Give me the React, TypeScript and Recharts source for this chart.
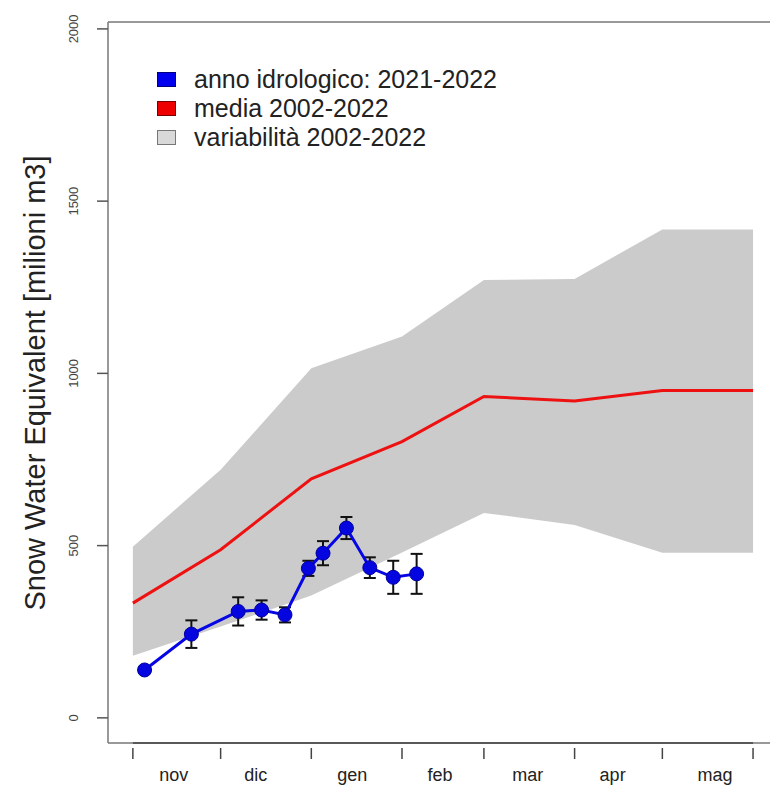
import React from "react";
import {
  ComposedChart,
  Area,
  Line,
  XAxis,
  YAxis,
  ErrorBar,
  ReferenceLine,
} from "recharts";

// days counted from 1 November 2021
const monthStarts = [0, 30, 61, 92, 120, 151, 181, 212];
const monthLabelDays = [14, 42, 75, 105, 135, 164, 199];
const monthLabels = ["nov", "dic", "gen", "feb", "mar", "apr", "mag"];

const meanSwe = [333, 488, 694, 802, 933, 920, 950, 950];
const bandLow = [180, 265, 355, 480, 595, 560, 479, 479];
const bandHigh = [497, 720, 1015, 1107, 1271, 1274, 1418, 1418];

const obsDays = [4, 20, 36, 44, 52, 60, 65, 73, 81, 89, 97];
const obsSwe = [139, 243, 309, 313, 299, 434, 478, 551, 436, 408, 418];
const obsErr = [8, 40, 41, 28, 22, 22, 35, 32, 30, 48, 58];

const yTicks = [0, 500, 1000, 1500, 2000];

// the plot box runs past the right edge of the picture
const X_DOMAIN: [number, number] = [-8.5, 226];
const Y_DOMAIN: [number, number] = [-73, 2020];

const bandData = monthStarts.map((d, i) => ({ day: d, band: [bandLow[i], bandHigh[i]] }));
const meanData = monthStarts.map((d, i) => ({ day: d, mean: meanSwe[i] }));
const obsData = obsDays.map((d, i) => ({ day: d, swe: obsSwe[i], err: obsErr[i] }));

const FONT = "'Liberation Sans', Arial, sans-serif";

const XTick = (props: any) => {
  const { x, y, payload } = props;
  const v = payload.value;
  const idx = monthLabelDays.indexOf(v);
  if (idx >= 0) {
    return (
      <text x={x} y={y + 32} textAnchor="middle" fontSize={18} fill="#222" fontFamily={FONT}>
        {monthLabels[idx]}
      </text>
    );
  }
  return <line x1={x} x2={x} y1={y - 1} y2={y + 10} stroke="#444" strokeWidth={1.5} />;
};

const YTick = (props: any) => {
  const { y, payload } = props;
  return (
    <g>
      <line x1={97} x2={108} y1={y} y2={y} stroke="#555" strokeWidth={1.5} />
      <text
        x={78}
        y={y}
        transform={`rotate(-90 78 ${y})`}
        textAnchor="middle"
        fontSize={13}
        fill="#444"
        fontFamily={FONT}
      >
        {payload.value}
      </text>
    </g>
  );
};

const legendItems = [
  { label: "anno idrologico: 2021-2022", fill: "#0000ee", border: "#00007a" },
  { label: "media 2002-2022", fill: "#ee0000", border: "#7a0000" },
  { label: "variabilità 2002-2022", fill: "#d9d9d9", border: "#777" },
];

const ChartLegend = () => (
  <div
    style={{
      position: "absolute",
      left: 157,
      top: 65,
      fontFamily: FONT,
      fontSize: 25,
      color: "#222",
      lineHeight: "29px",
    }}
  >
    {legendItems.map((it) => (
      <div key={it.label} style={{ display: "flex", alignItems: "center" }}>
        <span
          style={{
            display: "inline-block",
            width: 19,
            height: 15,
            background: it.fill,
            border: `1px solid ${it.border}`,
            marginRight: 18,
            boxSizing: "border-box",
          }}
        />
        <span>{it.label}</span>
      </div>
    ))}
  </div>
);

const boxStroke = { stroke: "#777", strokeWidth: 1.5, ifOverflow: "visible" as const };

export default function App() {
  return (
    <>
      <style>{"html,body{overflow:hidden;margin:0;}"}</style>
      <div style={{ position: "absolute", left: 0, top: 0, width: 806, height: 787, background: "#fff" }}>
        <ComposedChart width={806} height={787} margin={{ top: 22, right: 12, bottom: 0, left: 0 }}>
          <XAxis
            type="number"
            dataKey="day"
            domain={X_DOMAIN}
            ticks={[...monthStarts, ...monthLabelDays]}
            tick={<XTick />}
            tickLine={false}
            axisLine={false}
            tickMargin={0}
            height={44}
            interval={0}
            allowDataOverflow
          />
          <YAxis
            type="number"
            domain={Y_DOMAIN}
            ticks={yTicks}
            tick={<YTick />}
            tickLine={false}
            axisLine={false}
            width={108}
            interval={0}
            allowDataOverflow
            label={{
              content: () => (
                <text
                  x={45}
                  y={383}
                  transform="rotate(-90 45 383)"
                  textAnchor="middle"
                  fontSize={29}
                  fill="#222"
                  fontFamily={FONT}
                >
                  Snow Water Equivalent [milioni m3]
                </text>
              ),
            }}
          />
          <Area
            data={bandData}
            dataKey="band"
            type="linear"
            fill="#cbcbcb"
            fillOpacity={1}
            stroke="none"
            isAnimationActive={false}
          />
          <Line
            data={meanData}
            dataKey="mean"
            type="linear"
            stroke="#ee1111"
            strokeWidth={3}
            dot={false}
            isAnimationActive={false}
          />
          <Line
            data={obsData}
            dataKey="swe"
            type="linear"
            stroke="#0505e6"
            strokeWidth={3}
            dot={{ r: 7, fill: "#0505e0", stroke: "#00009a", strokeWidth: 1 }}
            isAnimationActive={false}
          >
            <ErrorBar dataKey="err" direction="y" width={6} strokeWidth={2} stroke="#111" />
          </Line>
          {/* plot box: top, left, bottom (right side is outside the picture) */}
          <ReferenceLine
            segment={[
              { x: X_DOMAIN[0], y: Y_DOMAIN[1] },
              { x: X_DOMAIN[1], y: Y_DOMAIN[1] },
            ]}
            {...boxStroke}
          />
          <ReferenceLine
            segment={[
              { x: X_DOMAIN[0], y: Y_DOMAIN[0] },
              { x: X_DOMAIN[0], y: Y_DOMAIN[1] },
            ]}
            {...boxStroke}
          />
          <ReferenceLine
            segment={[
              { x: X_DOMAIN[0], y: Y_DOMAIN[0] },
              { x: X_DOMAIN[1], y: Y_DOMAIN[0] },
            ]}
            {...boxStroke}
          />
          <ReferenceLine
            segment={[
              { x: 0, y: Y_DOMAIN[0] },
              { x: 212, y: Y_DOMAIN[0] },
            ]}
            stroke="#444"
            strokeWidth={1.5}
            ifOverflow="visible"
          />
        </ComposedChart>
        <ChartLegend />
      </div>
    </>
  );
}
